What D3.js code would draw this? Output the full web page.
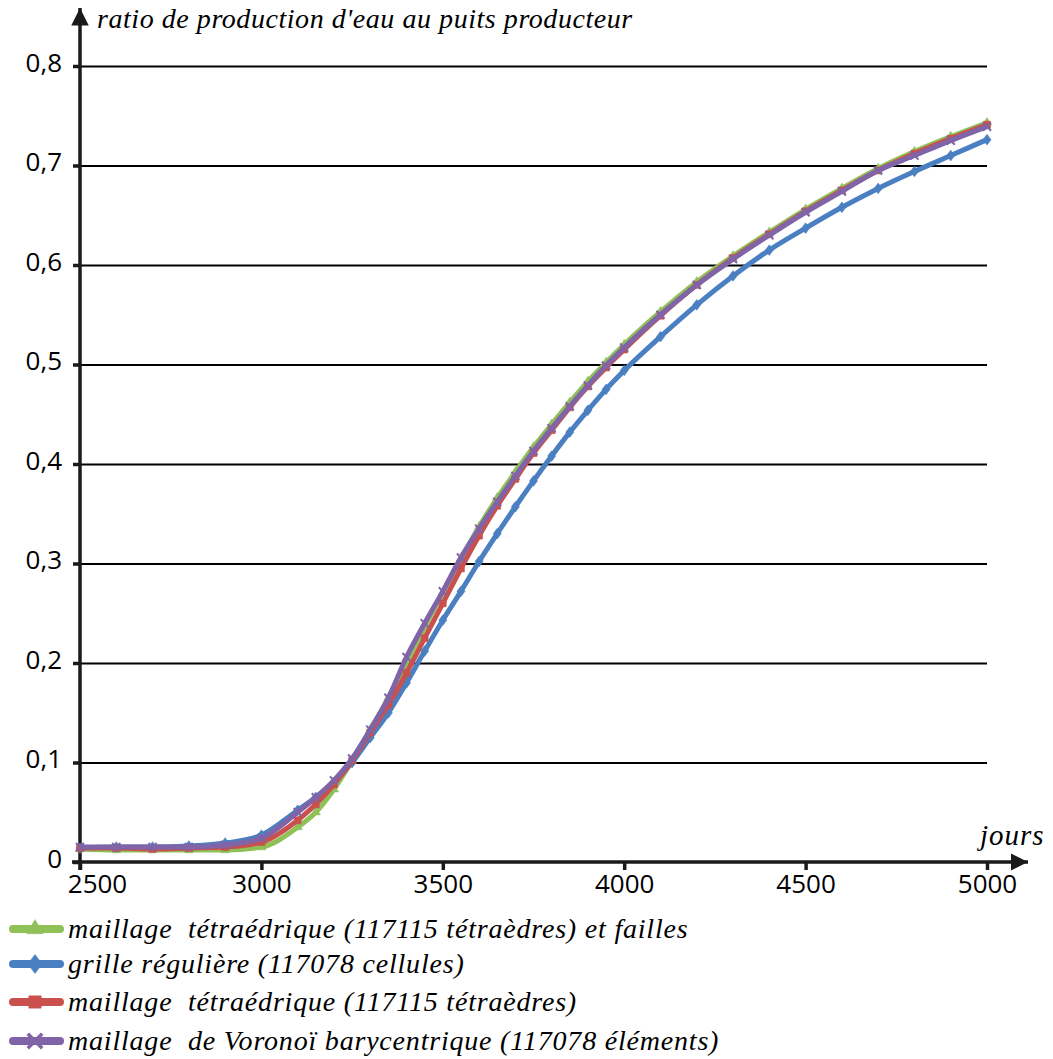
<!DOCTYPE html>
<html><head><meta charset="utf-8">
<script src="https://cdn.jsdelivr.net/npm/d3@7"></script>
<style>
body{margin:0;background:#fff;}
svg{display:block;}
.tick text{font-family:"Open Sans",sans-serif;font-size:26px;fill:#000;}
</style></head><body>
<svg id="chart" width="1053" height="1059"></svg>
<script>
const days = [2500,2600,2700,2800,2900,3000,3100,3150,3200,3250,3300,3350,3400,3450,3500,3550,3600,3650,3700,3750,3800,3850,3900,3950,4000,4100,4200,4300,4400,4500,4600,4700,4800,4900,5000];
const tetraFailles = [0.013,0.012,0.012,0.012,0.012,0.015,0.035,0.050,0.073,0.102,0.133,0.165,0.200,0.236,0.271,0.305,0.337,0.366,0.392,0.417,0.440,0.462,0.483,0.502,0.520,0.553,0.583,0.609,0.633,0.656,0.677,0.697,0.714,0.729,0.743];
const grille = [0.014,0.015,0.015,0.016,0.019,0.027,0.052,0.065,0.080,0.100,0.125,0.150,0.180,0.212,0.243,0.272,0.302,0.330,0.357,0.383,0.408,0.432,0.454,0.475,0.494,0.528,0.560,0.589,0.615,0.637,0.658,0.677,0.694,0.710,0.726];
const tetra = [0.014,0.014,0.013,0.014,0.015,0.020,0.042,0.058,0.078,0.102,0.130,0.158,0.190,0.225,0.260,0.295,0.328,0.358,0.385,0.411,0.434,0.457,0.478,0.497,0.515,0.549,0.580,0.607,0.631,0.654,0.675,0.695,0.712,0.727,0.741];
const voronoi = [0.015,0.015,0.015,0.015,0.017,0.024,0.050,0.065,0.082,0.104,0.133,0.165,0.206,0.240,0.272,0.306,0.335,0.362,0.388,0.413,0.436,0.458,0.479,0.499,0.517,0.550,0.580,0.606,0.630,0.653,0.674,0.695,0.710,0.725,0.739];
const seriesNames = ["maillage  tétraédrique (117115 tétraèdres) et failles","grille régulière (117078 cellules)","maillage  tétraédrique (117115 tétraèdres)","maillage  de Voronoï barycentrique (117078 éléments)"];
const seriesColors = ["#8fc158","#4a7fc1","#c9504c","#8064a8"];
const seriesMarkers = ["triangle","diamond","square","x"];
const xTicks = [2500,3000,3500,4000,4500,5000];
const yTicks = [0,0.1,0.2,0.3,0.4,0.5,0.6,0.7,0.8];
const yTitle = "ratio de production d'eau au puits producteur";
const xTitle = "jours";

const seriesValues = [tetraFailles, grille, tetra, voronoi];
const svg = d3.select("#chart");
svg.append("rect").attr("width",1053).attr("height",1059).attr("fill","#fff");

const x = d3.scaleLinear().domain([2500,5000]).range([80,987]);
const y = d3.scaleLinear().domain([0,0.8]).range([862,66]);

const defs = svg.append("defs");
defs.append("marker").attr("id","arrow").attr("viewBox","0 0 10 10").attr("refX",10).attr("refY",5)
  .attr("markerWidth",5).attr("markerHeight",5).attr("markerUnits","strokeWidth").attr("orient","auto")
  .append("path").attr("d","M0,0 L10,5 L0,10 Z").attr("fill","#1a1a1a");

// gridlines
const grid = svg.append("g").attr("transform","translate(80,0)")
  .call(d3.axisLeft(y).tickValues(yTicks.slice(1)).tickSize(-(987-80)).tickFormat(""));
grid.select(".domain").remove();
grid.selectAll("line").attr("stroke","#000").attr("stroke-width",1.8);

// y axis ticks + labels
const yAx = svg.append("g").attr("transform","translate(80,0)")
  .call(d3.axisLeft(y).tickValues(yTicks).tickSize(7).tickPadding(11)
    .tickFormat(d => d===0 ? "0" : d3.format(".1f")(d).replace(".",",")));
yAx.select(".domain").remove();
yAx.selectAll(".tick line").attr("stroke","#1a1a1a").attr("stroke-width",3.5);
yAx.selectAll(".tick text").attr("dy","0.2em");

// x axis ticks + labels
const xAx = svg.append("g").attr("transform","translate(0,862)")
  .call(d3.axisBottom(x).tickValues(xTicks).tickSize(8).tickPadding(5).tickFormat(d3.format("d")));
xAx.select(".domain").remove();
xAx.selectAll(".tick line").attr("stroke","#1a1a1a").attr("stroke-width",3.5);
xAx.selectAll(".tick text").filter(d => d===2500).attr("dx",17);

// axis lines with arrows
svg.append("line").attr("x1",80).attr("y1",870).attr("x2",80).attr("y2",8)
  .attr("stroke","#1a1a1a").attr("stroke-width",3.5).attr("marker-end","url(#arrow)");
svg.append("line").attr("x1",72).attr("y1",862).attr("x2",1028).attr("y2",862)
  .attr("stroke","#1a1a1a").attr("stroke-width",3.5).attr("marker-end","url(#arrow)");

// titles
svg.append("text").attr("x",97).attr("y",28).text(yTitle)
  .attr("font-family","'Liberation Serif',serif").attr("font-style","italic").attr("font-size",28)
  .attr("letter-spacing",0.55).attr("fill","#000");
svg.append("text").attr("x",980).attr("y",845).text(xTitle)
  .attr("font-family","'Liberation Serif',serif").attr("font-style","italic").attr("font-size",29)
  .attr("letter-spacing",1).attr("fill","#000");

function markerPath(type, s){
  if(type==="triangle") return d3.symbol(d3.symbolTriangle, s*s*0.45)();
  if(type==="diamond") return `M0,${-s*0.6}L${s*0.45},0L0,${s*0.6}L${-s*0.45},0Z`;
  if(type==="square") return d3.symbol(d3.symbolSquare, s*s*0.6)();
  const h = s*0.45;
  return `M${-h},${-h}L${h},${h}M${-h},${h}L${h},${-h}`;
}

const line = d3.line().x((d,i)=>x(days[i])).y(d=>y(d)).curve(d3.curveMonotoneX);
const plot = svg.append("g");
seriesValues.forEach((vals,k)=>{
  const g = plot.append("g");
  g.append("path").datum(vals).attr("d",line).attr("fill","none")
    .attr("stroke",seriesColors[k]).attr("stroke-width",5).attr("stroke-linejoin","round");
  g.selectAll("path.mk").data(vals).join("path").attr("class","mk")
    .attr("transform",(d,i)=>`translate(${x(days[i])},${y(d)})`)
    .attr("d",markerPath(seriesMarkers[k],9))
    .attr("fill",seriesMarkers[k]==="x"?"none":seriesColors[k])
    .attr("stroke",seriesColors[k]).attr("stroke-width",seriesMarkers[k]==="x"?2:0.5);
});

// legend
const legY = [929,964,1002,1041];
const leg = svg.append("g");
seriesNames.forEach((name,k)=>{
  const g = leg.append("g").attr("transform",`translate(0,${legY[k]})`);
  g.append("line").attr("x1",13).attr("x2",60).attr("y1",0).attr("y2",0)
    .attr("stroke",seriesColors[k]).attr("stroke-width",8).attr("stroke-linecap","round");
  g.append("path").attr("transform","translate(35,0)").attr("d",markerPath(seriesMarkers[k],16))
    .attr("fill",seriesMarkers[k]==="x"?"none":seriesColors[k])
    .attr("stroke",seriesColors[k]).attr("stroke-width",seriesMarkers[k]==="x"?3.5:0.5);
  g.append("text").attr("x",68).attr("y",9).text(name)
    .attr("font-family","'Liberation Serif',serif").attr("font-style","italic").attr("font-size",28)
    .attr("letter-spacing",0.8)
    .attr("fill","#000").attr("xml:space","preserve").style("white-space","pre");
});
</script></body></html>
